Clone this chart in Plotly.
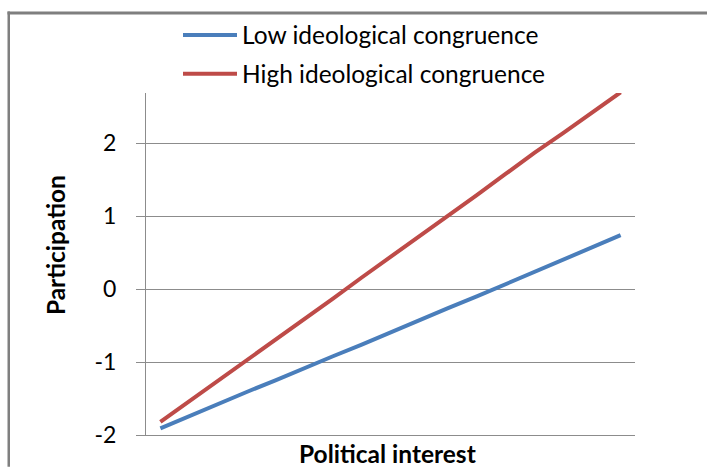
import plotly.graph_objects as go

# Data
categories = list(range(1, 18))
low_congruence = [-1.91, -1.74, -1.58, -1.41, -1.25, -1.08, -0.92, -0.76, -0.59,
                  -0.43, -0.26, -0.10, 0.07, 0.24, 0.40, 0.57, 0.74]
high_congruence = [-1.82, -1.54, -1.26, -0.97, -0.69, -0.41, -0.13, 0.16, 0.44,
                   0.72, 1.00, 1.29, 1.58, 1.87, 2.14, 2.42, 2.70]
y_ticks = [-2, -1, 0, 1, 2]
y_tick_labels = ["-2", "-1", "0", "1", "2"]
series_names = ["Low ideological congruence", "High ideological congruence"]

BLUE = "#4A7EBB"
RED = "#BE4B48"
GRID = "#8C8C8C"
BORDER = "#7F7F7F"
FONT = "Lato"

fig = go.Figure()
fig.add_trace(go.Scatter(x=categories, y=low_congruence, mode="lines",
                         name=series_names[0], legendgroup="a",
                         line=dict(color=BLUE, width=4)))
fig.add_trace(go.Scatter(x=categories, y=high_congruence, mode="lines",
                         name=series_names[1], legendgroup="b",
                         line=dict(color=RED, width=4)))

W, H = 707, 467
L, R, T, B = 146, 72, 91, 32
pw, ph = W - L - R, H - T - B

def px(x):
    return (x - L) / pw

def py(y):
    return (H - B - y) / ph

fig.update_layout(
    width=W, height=H,
    margin=dict(l=L, r=R, t=T, b=B, pad=0),
    paper_bgcolor="white", plot_bgcolor="white",
    font=dict(family=FONT, size=24, color="#000000"),
    showlegend=True,
    legend=dict(x=px(178), y=py(10), xanchor="left", yanchor="top",
                bgcolor="rgba(0,0,0,0)", font=dict(size=24.5),
                tracegroupgap=4, itemwidth=54),
    xaxis=dict(range=[0.5, 17.5], showticklabels=False, showgrid=False,
               zeroline=False, showline=True, linecolor=GRID, linewidth=1,
               ticks=""),
    yaxis=dict(range=[-2, 2.69], tickvals=y_ticks, ticktext=y_tick_labels,
               showgrid=True, gridcolor=GRID, gridwidth=1, zeroline=False,
               showline=True, linecolor=GRID, linewidth=1,
               ticks="outside", ticklen=9, tickcolor=GRID,
               ticklabelstandoff=15, tickfont=dict(size=23)),
    annotations=[
        dict(text="<b>Participation</b>", x=px(55), y=py(244), xref="paper",
             yref="paper", showarrow=False, textangle=-90,
             xanchor="center", yanchor="middle",
             font=dict(size=24.5, family=FONT)),
        dict(text="<b>Political interest</b>", x=px(387), y=py(454),
             xref="paper", yref="paper", showarrow=False,
             xanchor="center", yanchor="middle",
             font=dict(size=24.5, family=FONT)),
    ],
    shapes=[
        dict(type="rect", xref="paper", yref="paper",
             x0=px(7.5), x1=px(707), y0=py(12), y1=py(9),
             fillcolor=BORDER, line=dict(width=0), layer="above"),
        dict(type="rect", xref="paper", yref="paper",
             x0=px(7.5), x1=px(10), y0=py(467), y1=py(9),
             fillcolor=BORDER, line=dict(width=0), layer="above"),
    ],
)

fig.write_html("out.html", config={"displayModeBar": False},
               post_script="document.body.style.margin='0';")
